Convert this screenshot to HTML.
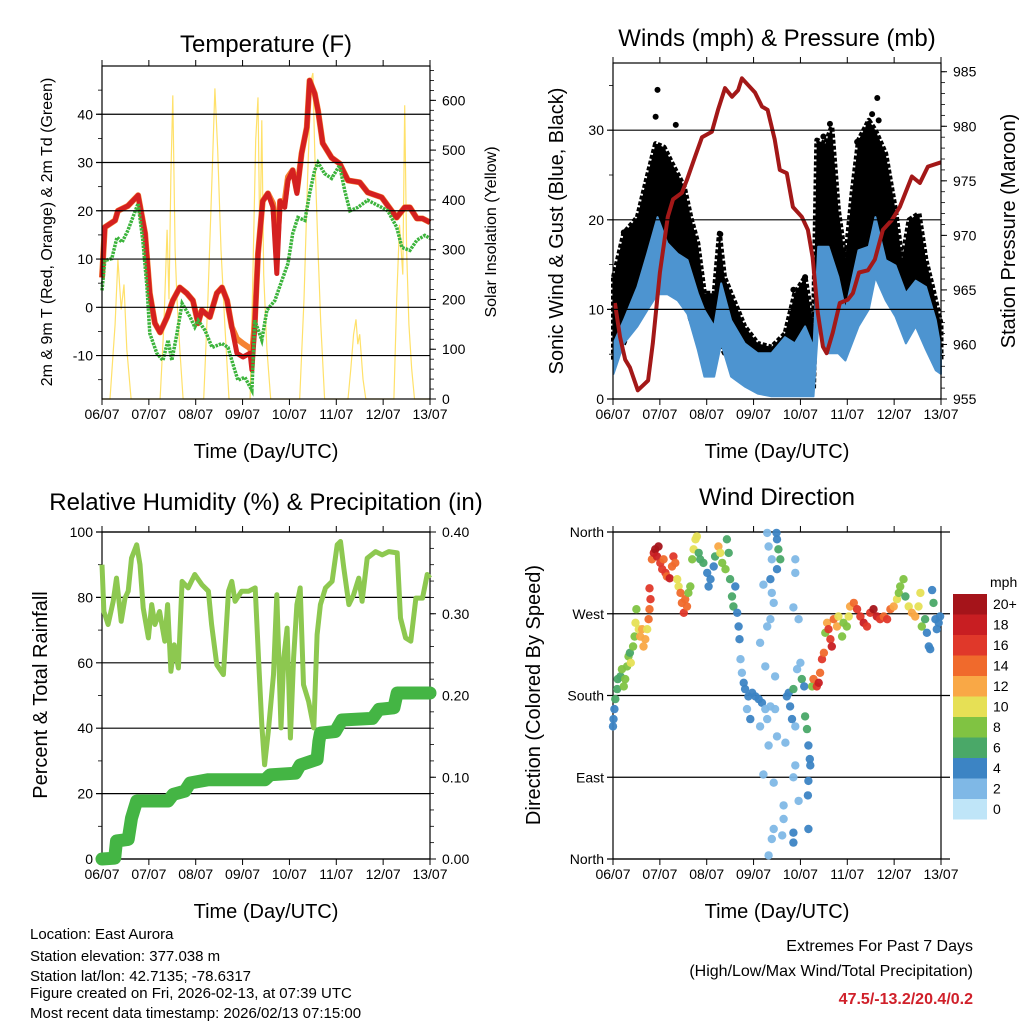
<!DOCTYPE html>
<html><head><meta charset="utf-8"><style>
html,body{margin:0;padding:0;background:#fff;}
svg{display:block;font-family:"Liberation Sans",sans-serif;}
</style></head><body>
<svg id="s" width="1024" height="1024" viewBox="0 0 1024 1024" xmlns="http://www.w3.org/2000/svg">
<rect width="1024" height="1024" fill="#fff"/>
<g font-size="24" text-anchor="middle" fill="#000">
<text x="266" y="52">Temperature (F)</text>
<text x="777" y="46">Winds (mph) &amp; Pressure (mb)</text>
<text x="266" y="510">Relative Humidity (%) &amp; Precipitation (in)</text>
<text x="777" y="505">Wind Direction</text>
</g>
<g font-size="20" text-anchor="middle">
<text x="266" y="458">Time (Day/UTC)</text>
<text x="777" y="458">Time (Day/UTC)</text>
<text x="266" y="918">Time (Day/UTC)</text>
<text x="777" y="918">Time (Day/UTC)</text>
<text transform="translate(52,232) rotate(-90)" font-size="16">2m &amp; 9m T (Red, Orange) &amp; 2m Td (Green)</text>
<text transform="translate(496,232) rotate(-90)" font-size="16">Solar Insolation (Yellow)</text>
<text transform="translate(563,231) rotate(-90)">Sonic Wind &amp; Gust (Blue, Black)</text>
<text transform="translate(1015,231) rotate(-90)">Station Pressure (Maroon)</text>
<text transform="translate(47,695) rotate(-90)">Percent &amp; Total Rainfall</text>
<text transform="translate(540,695) rotate(-90)">Direction (Colored By Speed)</text>
</g>
<g font-size="15">
<text x="30" y="939">Location: East Aurora</text>
<text x="30" y="961">Station elevation: 377.038 m</text>
<text x="30" y="981">Station lat/lon: 42.7135; -78.6317</text>
<text x="30" y="998">Figure created on Fri, 2026-02-13, at 07:39 UTC</text>
<text x="30" y="1018">Most recent data timestamp: 2026/02/13 07:15:00</text>
</g>
<g font-size="16" text-anchor="end">
<text x="973" y="951">Extremes For Past 7 Days</text>
<text x="973" y="976">(High/Low/Max Wind/Total Precipitation)</text>
<text x="973" y="1004" fill="#d0202a" font-weight="bold">47.5/-13.2/20.4/0.2</text>
</g>
</svg>
<script>
// ---- data ----
const dayLabels=["06/07","07/07","08/07","09/07","10/07","11/07","12/07","13/07"];
const redT=[0,.06,.28,.34,.55,.77,.92,1.02,1.13,1.24,1.39,1.51,1.66,1.81,1.94,2.05,2.13,2.30,2.45,2.56,2.67,2.77,2.88,3.01,3.16,3.20,3.26,3.33,3.43,3.54,3.65,3.73,3.80,3.90,3.97,4.07,4.16,4.26,4.37,4.43,4.54,4.61,4.71,4.90,5.07,5.25,5.50,5.67,5.97,6.18,6.29,6.46,6.57,6.72,6.84,7];
const redV=[6.2,16.6,18,20,21,23.2,15.3,2.9,-3.3,-5.2,-2,1.4,4.1,2.9,1.4,-3.3,-0.6,-2,2.9,4.1,1.4,-4.1,-9.5,-10.3,-9.5,-13,-4,11.1,22,23.6,20.7,7,22,20.7,26.3,28.4,23.6,31.9,37.3,47,44.3,40.8,34,31,29.8,26.3,25.9,23.8,22.8,20,18.6,20.7,20.7,18.4,18.4,17.6];
const orangeV=[6.2,16.6,18,20,21,23.2,15.3,2.9,-3.3,-5.2,-2,1.4,4.1,2.9,1.4,-3.3,-0.6,-2,2.9,4.1,1.4,-4.1,-6.5,-7.5,-8.5,-10,-3,11.1,22,23.6,21.5,12,22,22,27,28.4,24,31.9,37.3,47,44.3,40.8,34,31,29.8,26.3,25.9,23.8,22.8,20,18.6,20.7,20.7,18.4,18.4,17.6];
const dewT=[0,.06,.21,.32,.43,.55,.77,.87,.96,1.02,1.17,1.30,1.41,1.49,1.60,1.71,1.88,1.98,2.05,2.20,2.35,2.56,2.69,2.79,2.90,3.05,3.20,3.26,3.41,3.52,3.69,3.84,3.97,4.07,4.18,4.33,4.43,4.54,4.61,4.75,4.90,5.07,5.18,5.29,5.46,5.67,5.97,6.10,6.29,6.40,6.57,6.72,6.89,7];
const dewV=[3.5,9.7,10.1,14.5,13.5,15.9,21.5,13.9,4.1,-5.4,-9.5,-11,-6.8,-11,-5.4,0.8,-2,-4.1,-2.7,-4.8,-8.3,-7.5,-8.3,-11.6,-15.1,-14.5,-17.2,-2.7,-6.8,-0.6,1.4,5.6,9.1,15.3,18.6,18,23.6,28.4,30,27.7,26.7,29.4,24.2,20,20.7,22.2,20.7,20,16.6,12.4,11.8,13.9,14.9,14.3];
const solarT=[0,.17,.28,.34,.41,.47,.53,.62,1.24,1.32,1.39,1.43,1.47,1.51,1.56,1.60,1.66,1.73,2.17,2.26,2.35,2.41,2.47,2.54,2.62,2.71,3.16,3.22,3.28,3.33,3.37,3.41,3.45,3.52,3.60,4.22,4.31,4.39,4.46,4.50,4.54,4.61,4.67,4.75,5.25,5.31,5.37,5.42,5.46,5.50,5.57,5.63,6.23,6.29,6.35,6.42,6.46,6.50,6.55,6.61,6.67,7];
const solarV=[0,0,150,280,180,230,100,0,0,150,340,200,450,610,300,200,100,0,0,200,450,624,500,300,150,0,0,250,520,606,300,560,250,100,0,0,200,450,640,655,500,300,150,0,0,60,130,160,110,130,40,0,0,200,350,250,590,300,150,60,0,0];
const presT=[.04,.15,.26,.36,.53,.75,.85,1.0,1.17,1.28,1.47,1.58,1.75,1.90,2.11,2.24,2.39,2.54,2.67,2.75,2.88,3.03,3.18,3.30,3.45,3.56,3.71,3.84,4.03,4.16,4.26,4.37,4.48,4.56,4.69,4.84,5.01,5.12,5.25,5.44,5.59,5.76,5.95,6.12,6.38,6.55,6.72,7];
const presV=[963.8,960.7,958.6,957.9,955.8,956.7,960.1,966.6,971.7,973.3,973.9,975.1,977.2,979,979.5,981.5,983.5,982.7,983.3,984.4,983.8,983.1,981.8,981.5,978.8,976,975.7,972.6,971.7,970.5,968,962.9,959.8,959.2,961.1,963.8,964.1,964.7,966.6,966.8,967.8,970.5,971.4,972.6,975.4,974.8,976.3,976.7];
const gustT=[.01,.23,.52,.73,.91,1.09,1.30,1.52,1.66,1.81,1.95,2.16,2.27,2.38,2.52,2.81,3.09,3.38,3.67,3.88,4.10,4.28,4.35,4.53,4.67,4.81,4.96,5.10,5.24,5.46,5.60,5.82,6.03,6.17,6.32,6.53,6.68,6.82,7];
const gustHi=[13.6,18.5,20.3,24.8,28.5,28.1,25.9,23.7,20.3,17.4,11.8,11.8,18.5,13.6,11.8,8.1,6.2,5.8,7.3,11.8,13.6,8.1,28.9,28.5,30.4,21.1,15.5,22.9,28.9,31.1,30,27.4,21.1,15.5,20,20.7,15.5,12.5,8.4];
const gustLo=[4.3,6.2,9.9,11,12.5,14,11.8,11.8,8.8,6.9,5.1,4.3,6.2,5.1,4.3,3.2,2.1,1,1,0.6,0.6,1,15.5,14.7,11.8,10,7.3,10,13.6,17.4,15.5,11.8,10,8.1,8.8,8.1,6.2,5.1,4.3];
const gustDotT=[.95,.91,1.34,.23,.23,2.29,3.85,4.10,4.63,4.49,5.64,5.53,5.67,5.21,3.88,4.13];
const gustDotV=[34.5,31.5,30.6,18.6,17,18.4,12.2,13.6,30.7,29.3,33.6,31.8,31.1,28.7,9.2,10.7];
const windT=[.01,.23,.52,.73,.95,1.16,1.38,1.59,1.81,1.95,2.16,2.31,2.52,2.81,3.09,3.38,3.67,3.88,4.10,4.28,4.38,4.60,4.81,4.96,5.24,5.46,5.60,5.82,6.03,6.25,6.46,6.68,6.89,7];
const windHi=[6.2,8.8,12.5,16.2,20.3,17.4,16.2,15.5,11.8,9.9,8.1,12.9,8.8,6.2,5.1,5.1,6.9,6.2,8.1,5.8,17,17,13.6,9.9,16.6,17,20.3,15.5,14.9,11.8,13.2,12.5,8.8,5.5];
const windLo=[2.8,6.2,8.1,9.9,11.7,11.7,11,9.5,5.5,2.5,2.5,6.2,2.5,1.4,0.6,0.3,0.3,0.3,0.3,0.3,8.1,5.1,5.1,4.3,8.1,10,13.6,11,9.2,6.2,8.1,5.5,3.2,2.8];
const rhT=[0,.04,.13,.24,.31,.41,.49,.56,.63,.74,.81,.88,.99,1.06,1.13,1.23,1.34,1.40,1.47,1.54,1.63,1.71,1.84,1.98,2.13,2.27,2.34,2.45,2.59,2.70,2.77,2.84,2.98,3.13,3.27,3.34,3.41,3.47,3.55,3.66,3.73,3.82,3.88,3.95,4.02,4.09,4.16,4.23,4.30,4.41,4.52,4.59,4.66,4.77,4.91,5.02,5.09,5.16,5.27,5.37,5.48,5.55,5.66,5.84,5.98,6.12,6.30,6.37,6.48,6.59,6.70,6.84,6.94,7];
const rhV=[90,75.7,71.7,78.8,85.9,72.7,79.8,81.9,92,96.1,90,76.8,67.6,77.8,71.7,75.7,66.6,77.8,57.4,65.5,58.4,84.9,82.9,87,83.9,81.9,71.7,59.4,56.4,81.9,84.9,78.8,81.9,81.9,82.9,61.5,41.1,28.8,39,56.4,80.8,40.1,61.5,70.6,37,61.5,77.8,82.9,53.3,48.2,40.1,68.6,77.8,82.9,84.9,96.1,97.1,89,77.8,80.8,85.9,78.8,92,94,93,94,93.6,73.7,67.6,66.6,79.8,79.8,87,85.9];
const rainT=[0,.27,.31,.56,.63,.74,1.41,1.52,1.77,1.88,2.27,3.48,3.59,4.13,4.23,4.59,4.63,4.66,4.98,5.12,5.77,5.91,6.23,6.30,7];
const rainV=[0,.001,.022,.024,.05,.071,.071,.079,.083,.093,.097,.097,.103,.105,.115,.122,.144,.154,.156,.170,.172,.183,.185,.203,.203];
const dirT=[0,.01,.03,.05,.09,.10,.16,.19,.23,.26,.30,.33,.36,.38,.43,.46,.48,.50,.55,.58,.62,.65,.69,.73,.76,.78,.80,.78,
.83,.87,.90,.94,.97,1.01,1.05,1.08,1.12,1.15,1.21,1.26,1.29,1.33,1.37,1.40,1.44,1.47,1.51,1.54,1.58,1.61,1.65,1.69,1.72,1.76,1.79,1.83,1.86,1.93,2.01,2.04,2.08,2.15,2.18,2.25,2.29,2.33,2.40,2.43,2.47,2.50,2.54,2.57,2.61,2.65,
2.68,2.70,2.72,2.75,2.79,2.82,2.89,2.97,3.04,3.11,3.18,3.25,3.29,3.36,3.46,2.86,2.93,3.14,3.32,3.50,3.68,3.71,3.78,3.82,3.89,3.75,3.85,3.93,4.00,4.03,4.08,4.10,4.14,4.17,4.20,4.21,4.17,4.16,4.17,3.85,3.85,3.64,3.64,3.61,3.43,3.39,3.32,3.21,3.43,3.85,3.96,3.89,
3.29,3.32,3.39,3.36,3.39,3.43,3.36,3.29,3.21,3.50,3.53,3.57,3.50,3.49,3.89,3.89,3.85,3.96,3.14,3.25,3.46,
4.25,4.28,4.35,4.39,4.42,4.46,4.50,4.53,4.57,4.60,4.64,4.67,4.71,4.78,4.81,4.89,4.92,4.99,5.03,5.06,5.14,5.21,5.28,5.35,5.42,5.49,5.56,5.63,5.70,5.78,5.85,5.92,5.99,6.06,6.10,6.13,6.20,6.24,6.31,6.38,6.45,6.52,6.56,6.59,6.66,6.70,6.74,6.77,6.81,6.84,6.88,6.95,6.98,6.91];
const dirDeg=[146,154,165,176,187,198,201,209,190,198,212,223,227,216,234,245,260,275,253,245,253,234,242,253,264,275,286,298,
330,337,341,333,344,326,319,330,315,311,309,322,333,326,308,300,293,282,271,286,278,293,300,330,341,352,355,337,330,326,315,300,308,322,333,344,337,326,319,352,337,308,289,278,300,271,
256,242,220,205,194,187,179,183,179,176,172,165,154,168,165,165,154,146,125,135,128,179,168,154,146,183,187,209,216,198,190,157,143,125,110,103,86,70,33,29,18,59,44,26,33,22,4,93,84,90,64,103,
359,344,330,308,293,282,264,256,302,352,341,330,319,359,330,315,277,264,238,212,201,
190,198,190,194,205,220,227,249,260,253,242,234,264,256,267,245,260,256,267,278,282,275,267,260,256,271,275,267,264,267,264,275,278,286,293,300,308,289,278,271,267,278,293,256,264,249,234,231,296,282,264,260,267,253];
const dirSpd=[4,4,4,6,6,6,6,8,8,8,8,8,6,10,8,8,10,8,10,12,12,12,12,10,14,14,16,16,
14,18,20,18,20,16,16,14,16,14,18,14,16,14,10,10,14,14,16,14,14,8,8,8,10,10,10,6,6,6,4,4,4,4,6,12,10,8,8,6,6,6,6,6,4,4,
4,4,2,2,4,4,4,4,4,4,4,2,2,2,2,2,4,2,2,2,2,4,4,4,2,4,6,2,2,6,4,6,6,4,4,4,4,4,4,4,4,2,2,2,2,2,2,2,2,2,2,2,
2,2,2,4,2,2,2,2,2,4,6,6,4,4,2,2,2,2,2,2,2,
8,14,16,18,14,16,14,8,12,16,16,18,14,12,10,8,8,8,10,12,14,16,16,18,16,16,20,18,16,14,16,14,12,10,8,8,8,6,10,12,12,10,10,8,6,4,4,4,4,6,4,4,4,4];
const cbLabels=["20+","18","16","14","12","10","8","6","4","2","0"];
const cbColors=["#a5141a","#c81e22","#e0382a","#f06a2c","#f9a846","#e6e055","#80c342","#4aa868","#3c84c4","#7fb8e6","#bfe5f8"];

// ---- helpers ----
const NS="http://www.w3.org/2000/svg";
const svg=document.getElementById('s');
function make(tag,attrs,parent){const el=document.createElementNS(NS,tag);for(const k in attrs)el.setAttribute(k,attrs[k]);(parent||svg).appendChild(el);return el;}
function lin(d0,d1,r0,r1){return v=>r0+(v-d0)*(r1-r0)/(d1-d0);}
function pts(xs,ys,fx,fy){return xs.map((t,i)=>fx(t).toFixed(1)+","+fy(ys[i]).toFixed(1)).join(" ");}
function spdColor(s){let i=10-Math.min(10,Math.floor(s/2));return cbColors[i];}

function axes(P,name,leftTicks,leftMinor,leftFmt,rightTicks,rightMinor,rightFmt,fl,fr){
  const g=make('g',{});
  
  
  const fx=lin(0,7,P.x0,P.x1);
  leftTicks.forEach(v=>{const y=fl(v);
    make('line',{x1:P.x0-6,x2:P.x1+(P.gridExt||0),y1:y,y2:y,stroke:'#000','stroke-width':1.2},g);
    const t=make('text',{x:P.x0-9,y:y+5,'font-size':14,'text-anchor':'end'},g);t.textContent=leftFmt(v);});
  leftMinor.forEach(v=>{const y=fl(v);make('line',{x1:P.x0-4,x2:P.x0,y1:y,y2:y,stroke:'#000','stroke-width':0.8},g);});
  if(rightTicks){rightTicks.forEach(v=>{const y=fr(v);make('line',{x1:P.x1,x2:P.x1+6,y1:y,y2:y,stroke:'#000','stroke-width':1},g);
    const t=make('text',{x:P.x1+12,y:y+5,'font-size':14},g);t.textContent=rightFmt(v);});
   rightMinor.forEach(v=>{const y=fr(v);make('line',{x1:P.x1,x2:P.x1+4,y1:y,y2:y,stroke:'#000','stroke-width':0.8},g);});}
  dayLabels.forEach((d,i)=>{const x=fx(i);
    make('line',{x1:x,x2:x,y1:P.y0-6,y2:P.y0,stroke:'#000'},g);
    make('line',{x1:x,x2:x,y1:P.y1,y2:P.y1+6,stroke:'#000'},g);
    const t=make('text',{x:x,y:P.y1+20,'font-size':14,'text-anchor':'middle'},g);t.textContent=d;});
  make('rect',{x:P.x0,y:P.y0,width:P.x1-P.x0,height:P.y1-P.y0,fill:'none',stroke:'#000','stroke-width':1.2},g);
}
function range(a,b,s){const r=[];for(let v=a;v<=b+1e-9;v+=s)r.push(+v.toFixed(4));return r;}

// ---- panel 1: temperature ----
const P1={x0:102,x1:430,y0:66,y1:399};
const x1f=lin(0,7,P1.x0,P1.x1), yT=lin(-19,50,P1.y1,P1.y0), yS=lin(0,669,P1.y1,P1.y0);
let el;
el=make('polyline',{points:pts(solarT,solarV,x1f,yS),fill:'none',stroke:'#ffe16a','stroke-width':1.2});


el=make('polyline',{points:pts(redT,orangeV,x1f,yT),fill:'none',stroke:'#f58231','stroke-width':6,'stroke-linejoin':'round'});


el=make('polyline',{points:pts(redT,redV,x1f,yT),fill:'none',stroke:'#d42020','stroke-width':5,'stroke-linejoin':'round'});


el=make('polyline',{points:pts(dewT,dewV,x1f,yT),fill:'none',stroke:'#3cb43c','stroke-width':3.5,'stroke-dasharray':'2.5 1'});


axes(P1,'temperature',range(-10,40,10),range(-15,45,5),v=>v,range(0,600,100),range(0,660,20),v=>v,yT,yS);

// ---- panel 2: winds ----
const P2={x0:613,x1:941,y0:63,y1:399};
const x2f=lin(0,7,P2.x0,P2.x1), yW=lin(0,37.5,P2.y1,P2.y0), yP=lin(955,985.8,P2.y1,P2.y0);
el=make('polygon',{points:pts(gustT,gustHi,x2f,yW)+" "+pts(gustT.slice().reverse(),gustLo.slice().reverse(),x2f,yW),fill:'#000',stroke:'#000','stroke-width':5,'stroke-linejoin':'round','stroke-dasharray':'4 2'});


gustDotT.forEach((t,i)=>{
  const d=make('circle',{cx:x2f(t),cy:yW(gustDotV[i]),r:3,fill:'#000'});
  
  
});
el=make('polygon',{points:pts(windT,windHi,x2f,yW)+" "+pts(windT.slice().reverse(),windLo.slice().reverse(),x2f,yW),fill:'#4d94d0',stroke:'#4d94d0','stroke-width':2,'stroke-linejoin':'round'});


el=make('polyline',{points:pts(presT,presV,x2f,yP),fill:'none',stroke:'#a31818','stroke-width':4,'stroke-linejoin':'round'});


axes(P2,'winds',range(0,30,10),range(5,35,5),v=>v,range(955,985,5),range(955,985,1),v=>v,yW,yP);

// ---- panel 3: RH & precip ----
const P3={x0:102,x1:430,y0:532,y1:859};
const x3f=lin(0,7,P3.x0,P3.x1), yH=lin(0,100,P3.y1,P3.y0), yR=lin(0,0.4,P3.y1,P3.y0);
axes(P3,'humidity',range(0,100,20),range(10,90,20),v=>v,range(0,0.4,0.1),range(0,0.4,0.02),v=>v.toFixed(2),yH,yR);
el=make('polyline',{points:pts(rhT,rhV,x3f,yH),fill:'none',stroke:'#8dc850','stroke-width':5,'stroke-linejoin':'round'});


el=make('polyline',{points:pts(rainT,rainV,x3f,yR),fill:'none',stroke:'#44b544','stroke-width':13,'stroke-linejoin':'round','stroke-linecap':'round'});



// ---- panel 4: wind direction ----
const P4={x0:613,x1:941,y0:532,y1:859,gridExt:9};
const x4f=lin(0,7,P4.x0,P4.x1), yD=lin(0,360,P4.y1,P4.y0);
const dirNames={0:"North",90:"East",180:"South",270:"West",360:"North"};
axes(P4,'wind-direction',[0,90,180,270,360],[],v=>dirNames[v],null,null,null,yD,null);
dirT.forEach((t,i)=>{
  const c=make('circle',{cx:x4f(t).toFixed(1),cy:yD(dirDeg[i]).toFixed(1),r:4.2,fill:spdColor(dirSpd[i]),'fill-opacity':0.95});
  
  
});

// ---- colorbar ----
const cb=make('g',{});


const cbT=make('text',{x:990,y:587,'font-size':14},cb);cbT.textContent="mph";
cbLabels.forEach((l,i)=>{
  const y=594+i*20.5;
  const r=make('rect',{x:953,y:y,width:34,height:20.5,fill:cbColors[i]},cb);
  
  
  const t=make('text',{x:993,y:y+15,'font-size':14},cb);t.textContent=l;
});
</script>
</body></html>
